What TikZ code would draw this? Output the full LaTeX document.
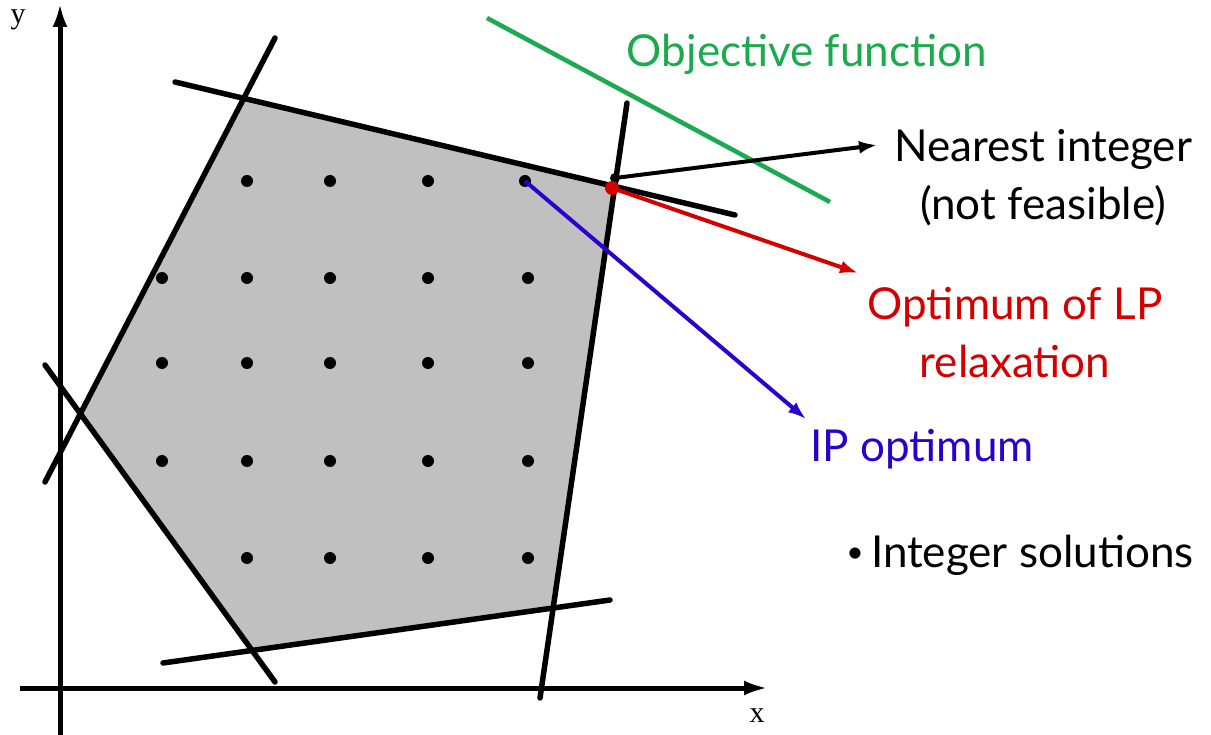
\documentclass[tikz,border=0pt]{standalone}
\usepackage{fontspec}
\setmainfont{Lato}
\newfontfamily\axisfont{Liberation Serif}
\usetikzlibrary{arrows.meta}
\definecolor{objgreen}{HTML}{1BAA4E}
\definecolor{lpred}{HTML}{D40000}
\definecolor{ipblue}{HTML}{2A00CC}
\definecolor{regiongray}{HTML}{C0C0C0}
\tikzset{
  axis/.style={line width=5pt,-{Latex[length=24pt,width=15pt]}},
  cons/.style={line width=5.5pt,line cap=round},
  pt/.style={circle,fill=black,inner sep=0pt,minimum size=12pt},
  lbl/.style={font=\fontsize{44}{58}\selectfont,align=center,inner sep=0pt},
  callout/.style={line width=4pt,-{Latex[length=18pt,width=13pt]}},
  axlbl/.style={font=\fontsize{30}{34}\selectfont\axisfont,inner sep=0pt}
}
\begin{document}
\begin{tikzpicture}[x=1pt,y=-1pt]
\useasboundingbox (0,0) rectangle (1211,735);
% constraint line ends
\coordinate (t1) at (175,82); \coordinate (t2) at (735,215);
\coordinate (lt1) at (275,38); \coordinate (lt2) at (45,482);
\coordinate (lb1) at (45,365); \coordinate (lb2) at (275,682);
\coordinate (b1) at (163,663); \coordinate (b2) at (610,600);
\coordinate (r1) at (627,103); \coordinate (r2) at (540,698);
% feasible region
\fill[regiongray]
  (intersection of t1--t2 and lt1--lt2) --
  (intersection of t1--t2 and r1--r2) --
  (intersection of r1--r2 and b1--b2) --
  (intersection of b1--b2 and lb1--lb2) --
  (intersection of lb1--lb2 and lt1--lt2) -- cycle;
% axes
\coordinate (yb) at (60,735);
\coordinate (yt) at (60,3);
\coordinate (xl) at (20,688);
\coordinate (xr) at (768,688);
\draw[axis] (yb) -- (yt);
\draw[axis] (xl) -- (xr);
\node[axlbl] (ylab) at (18,20) {y};
\node[axlbl] (xlab) at (757,716) {x};
% constraint lines
\draw[cons] (t1) -- (t2);
\draw[cons] (lt1) -- (lt2);
\draw[cons] (lb1) -- (lb2);
\draw[cons] (b1) -- (b2);
\draw[cons] (r1) -- (r2);
% objective
\coordinate (o1) at (487,18); \coordinate (o2) at (830,202);
\draw[objgreen,line width=4.5pt] (o1) -- (o2);
% integer points
\foreach \x/\n in {247/a,330/b,428/c,525/d} \node[pt] (p1\n) at (\x,181) {};
\foreach \y/\r in {278/2,363/3,461/4} {
  \foreach \x/\n in {162/e,247/a,330/b,428/c,528/d} \node[pt] (p\r\n) at (\x,\y) {};
}
\foreach \x/\n in {247/a,330/b,428/c,528/d} \node[pt] (p5\n) at (\x,558) {};
% special points
\node[pt,minimum size=10pt] (near) at (615,178) {};
\node[circle,fill=lpred,inner sep=0pt,minimum size=14pt] (lpopt) at (612,188) {};
% labels
\node[lbl,text=objgreen] (objl) at (807,54) {Objective function};
\node[lbl] (nearl) at (1043,178) {Nearest integer\\(not feasible)};
\node[lbl,text=lpred] (lpl) at (1015,333) {Optimum of LP\\relaxation};
\node[lbl,text=ipblue] (ipl) at (922,449) {IP optimum};
\node[lbl] (intl) at (1020,555) {{\fontsize{30}{30}\selectfont\raisebox{5pt}{\textbullet}}\,Integer solutions};
% callouts
\coordinate (na) at (877,145);
\coordinate (la) at (858,273);
\coordinate (ia) at (806,419);
\draw[callout] (near.center) -- (na);
\draw[callout,lpred] (lpopt.center) -- (la);
\draw[callout,ipblue] (p1d.center) -- (ia);
\end{tikzpicture}
\end{document}
